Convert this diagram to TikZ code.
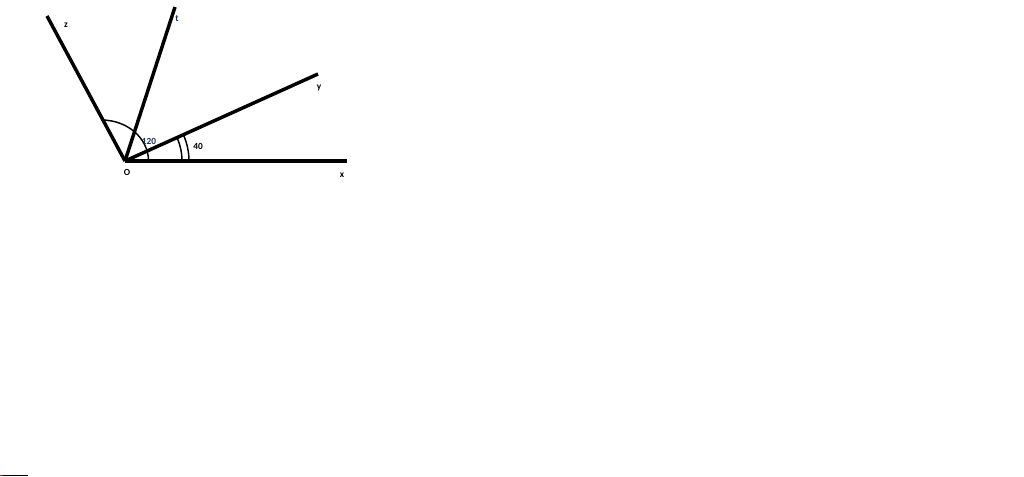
\documentclass[tikz,border=0pt]{standalone}
\usepackage{fontspec}
\setmainfont{Carlito}
\usepackage{xcolor}
\definecolor{labelblue}{HTML}{1A2E5A}

\tikzset{
    ray/.style={line width=2.6pt},
    anglemark/.style={line width=1.1pt},
    lbl/.style={font=\bfseries\fontsize{7}{8}\selectfont,inner sep=0pt}
}

\begin{document}
\begin{tikzpicture}[x=0.75pt,y=-0.75pt]
    \useasboundingbox (0,0) rectangle (1024,476);

    % Rays
    \coordinate (O) at (125,161);
    \coordinate (X) at (347,161);
    \coordinate (Y) at (318,74);
    \coordinate (T) at (175,7);
    \coordinate (Z) at (47,16);
    \draw [ray] (O) to (X);
    \draw [ray] (O) to (Y);
    \draw [ray] (O) to (T);
    \draw [ray] (O) to (Z);

    % angle marks
    \coordinate (Zarc) at (101.5,120);
    \draw [anglemark] (Zarc) arc [start angle=90,end angle=0,x radius=47,y radius=-41];
    \coordinate (XarcA) at (182,161);
    \draw [anglemark] (XarcA) arc [start angle=0,end angle=-24,radius=57];
    \coordinate (XarcB) at (189,161);
    \draw [anglemark] (XarcB) arc [start angle=0,end angle=-24,radius=64];

    % labels
    \node (Olbl) at (127,172) [lbl] {O};
    \node (xlbl) at (342,175) [lbl] {x};
    \node (ylbl) at (319,88) [lbl] {y};
    \node (tlbl) at (177,19) [lbl,labelblue] {t};
    \node (zlbl) at (66,25) [lbl] {z};
    \node (anglezx) at (149,141) [lbl,labelblue] {120};
    \node (anglexy) at (198,146) [lbl] {40};

    % edge strip
    \draw [line width=0.75pt] (0,475.5) to (28,475.5);
    \draw [line width=0.75pt,red] (0,475.5) to (3,475.5);
\end{tikzpicture}
\end{document}
